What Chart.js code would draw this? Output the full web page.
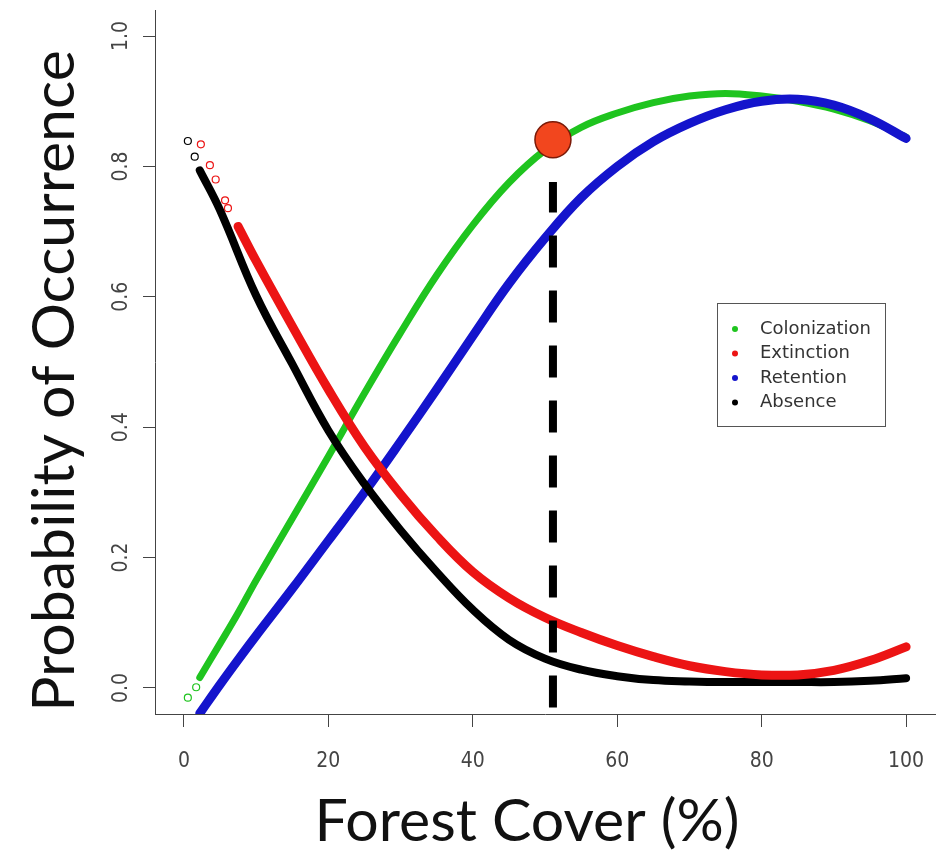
<!DOCTYPE html>
<html>
<head>
<meta charset="utf-8">
<script src="https://cdn.jsdelivr.net/npm/chart.js@4.4.1/dist/chart.umd.min.js"></script>
<style>
  html, body { margin: 0; padding: 0; background: #fff; }
  #wrap { width: 940px; height: 859px; }
</style>
</head>
<body>
<div id="wrap"><canvas id="chart" width="940" height="859"></canvas></div>
<script>
// forest cover (%) at which the fitted curves were read
const coverX       = [2.2, 5, 7.5, 10, 15, 20, 25, 30, 35, 40, 45, 50, 55, 60, 65, 70, 75, 80, 85, 90, 95, 100];
const colonization = [0.016, 0.068, 0.115, 0.165, 0.26, 0.355, 0.452, 0.545, 0.633, 0.71, 0.775, 0.825, 0.86, 0.882, 0.898, 0.908, 0.912, 0.908, 0.900, 0.888, 0.870, 0.845];
const retention    = [-0.039, 0.005, 0.043, 0.08, 0.152, 0.226, 0.30, 0.378, 0.458, 0.54, 0.62, 0.69, 0.752, 0.80, 0.838, 0.866, 0.887, 0.900, 0.903, 0.894, 0.873, 0.843];
const extinction   = [null, null, 0.708, 0.655, 0.555, 0.458, 0.37, 0.297, 0.233, 0.178, 0.138, 0.108, 0.085, 0.065, 0.048, 0.034, 0.025, 0.02, 0.02, 0.027, 0.042, 0.063];
const absence      = [0.794, 0.733, null, 0.602, 0.497, 0.395, 0.313, 0.242, 0.178, 0.12, 0.074, 0.045, 0.028, 0.018, 0.012, 0.01, 0.009, 0.009, 0.009, 0.009, 0.011, 0.015];

// loose open symbols at the low-cover end
const extinctionLooseX   = [2.35, 3.6, 4.4, 5.7, 6.1];
const extinctionLooseY   = [0.834, 0.802, 0.78, 0.748, 0.736];
const absenceLooseX      = [0.55, 1.5];
const absenceLooseY      = [0.839, 0.815];
const colonizationLooseX = [0.55, 1.7];
const colonizationLooseY = [-0.015, 0.001];

// threshold marker
const thresholdX = [51.1, 51.1];
const thresholdY = [-0.03, 0.776];
const optimumX = [51.1];
const optimumY = [0.841];

const xTicks = [0, 20, 40, 60, 80, 100];
const yTicks = [0, 0.2, 0.4, 0.6, 0.8, 1.0];

const seriesNames  = ['Colonization', 'Extinction', 'Retention', 'Absence'];
const seriesColors = ['#1fc41f', '#ec1414', '#1414cc', '#000000'];

const tickFont = { family: "'Liberation Sans Narrow', 'DejaVu Sans Condensed', 'Liberation Sans', sans-serif", size: 21 };
const titleFont = "59px Lato, 'Open Sans', sans-serif";

function pts(xs, ys) {
    return xs.map((x, i) => ({ x, y: ys[i] })).filter(p => p.y !== null);
}

function curve(ys, colorIdx, width) {
    return {
        data: pts(coverX, ys), showLine: true, pointRadius: 0,
        borderColor: seriesColors[colorIdx], borderWidth: width, tension: 0.4,
        borderCapStyle: 'round', borderJoinStyle: 'round'
    };
}

function loose(xs, ys, colorIdx) {
    return {
        data: pts(xs, ys), showLine: false, pointRadius: 3.5, pointStyle: 'circle',
        pointBackgroundColor: 'rgba(0,0,0,0)', pointBorderColor: seriesColors[colorIdx], pointBorderWidth: 1.2
    };
}

const legendBox = {
    id: 'legendBox',
    afterDraw(chart) {
        const ctx = chart.ctx;
        const x = 717, y = 303, w = 168, h = 123;
        ctx.save();
        ctx.fillStyle = '#fff';
        ctx.fillRect(x, y, w, h);
        ctx.strokeStyle = '#555';
        ctx.lineWidth = 1;
        ctx.strokeRect(x + 0.5, y + 0.5, w, h);
        ctx.font = "18px 'DejaVu Sans', sans-serif";
        ctx.textBaseline = 'middle';
        seriesNames.forEach((name, i) => {
            const cy = y + 26 + i * 24.5;
            ctx.fillStyle = seriesColors[i];
            ctx.beginPath(); ctx.arc(x + 18, cy, 3, 0, Math.PI * 2); ctx.fill();
            ctx.fillStyle = '#333';
            ctx.fillText(name, x + 43, cy);
        });
        ctx.restore();
    }
};

const axisTitles = {
    id: 'axisTitles',
    afterDraw(chart) {
        const ctx = chart.ctx;
        ctx.save();
        ctx.font = titleFont;
        ctx.fillStyle = '#111';
        ctx.textAlign = 'center';
        ctx.textBaseline = 'middle';
        ctx.fillText('Forest Cover (%)', 527, 822);
        ctx.translate(55, 381);
        ctx.rotate(-Math.PI / 2);
        ctx.fillText('Probability of Occurrence', 0, 0);
        ctx.restore();
    }
};

// keep tick labels from pushing the plot area inwards
function noOverflow(s) {
    s.paddingLeft = 0; s.paddingRight = 0; s.paddingTop = 0; s.paddingBottom = 0;
}

new Chart(document.getElementById('chart'), {
    type: 'scatter',
    data: {
        datasets: [
            { data: pts(optimumX, optimumY), pointRadius: 18, pointHoverRadius: 18, pointBackgroundColor: '#f2461e', pointBorderColor: '#7a1a08', pointBorderWidth: 1.5 },
            { data: pts(thresholdX, thresholdY), showLine: true, pointRadius: 0, borderColor: '#000', borderWidth: 8, borderDash: [32, 23], borderCapStyle: 'butt' },
            curve(extinction, 1, 9),
            curve(absence, 3, 8),
            curve(retention, 2, 9),
            curve(colonization, 0, 7),
            loose(extinctionLooseX, extinctionLooseY, 1),
            loose(absenceLooseX, absenceLooseY, 3),
            loose(colonizationLooseX, colonizationLooseY, 0)
        ]
    },
    options: {
        responsive: false,
        animation: false,
        layout: { autoPadding: false, padding: { left: 0, right: 5, top: 10, bottom: 0 } },
        plugins: { legend: { display: false }, tooltip: { enabled: false } },
        scales: {
            x: {
                type: 'linear', min: -4, max: 104,
                afterBuildTicks: s => { s.ticks = xTicks.map(v => ({ value: v })); },
                afterFit: s => { s.height = 145; noOverflow(s); },
                grid: { drawOnChartArea: false, tickLength: 13, color: '#444' },
                border: { color: '#444', width: 1 },
                ticks: { font: tickFont, color: '#444', padding: 22, maxRotation: 0, autoSkip: false }
            },
            y: {
                type: 'linear', min: -0.04, max: 1.04,
                afterBuildTicks: s => { s.ticks = yTicks.map(v => ({ value: v })); },
                afterFit: s => { s.width = 155; noOverflow(s); },
                grid: { drawOnChartArea: false, tickLength: 12, color: '#444' },
                border: { color: '#444', width: 1 },
                ticks: { font: tickFont, color: '#444', padding: 6, minRotation: 90, maxRotation: 90, crossAlign: 'center',
                         callback: v => v.toFixed(1) }
            }
        }
    },
    plugins: [legendBox, axisTitles]
});
</script>
</body>
</html>
